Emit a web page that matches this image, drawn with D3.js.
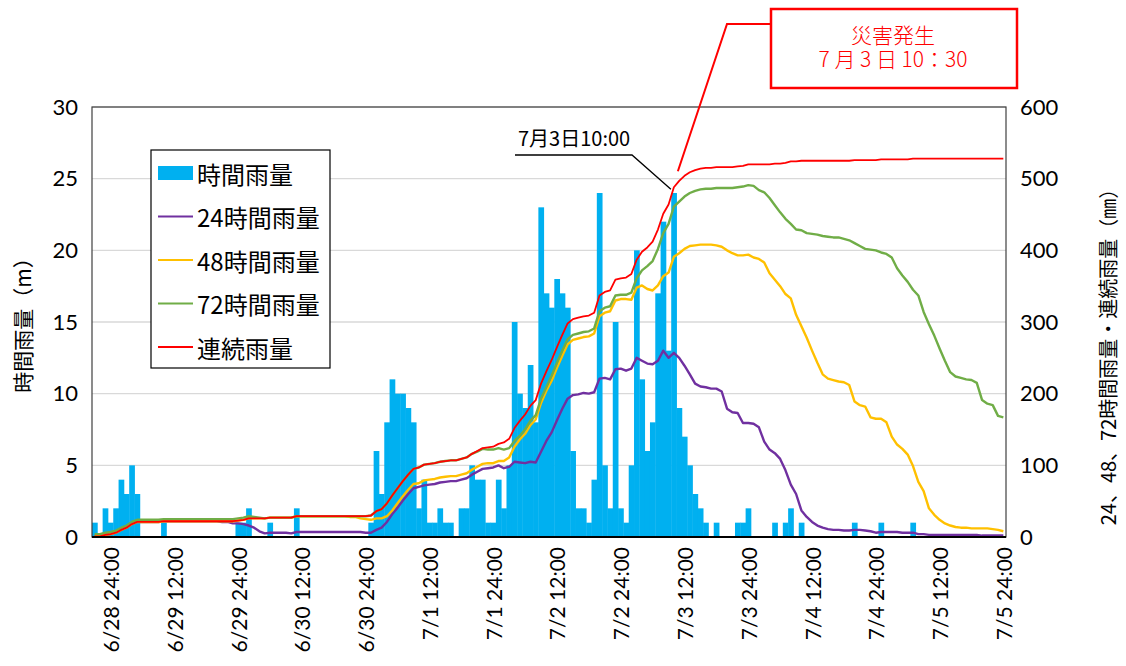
<!DOCTYPE html>
<html lang="ja">
<head>
<meta charset="UTF-8">
<script src="https://cdn.jsdelivr.net/npm/d3@7"></script>
<title>rain</title>
<style>
  body { margin: 0; background: #fff; }
  text { font-family: Lato, "Noto Sans CJK JP", sans-serif; fill: #000; }
  .jp { font-family: "Noto Sans CJK JP", sans-serif; }
</style>
</head>
<body>
<script>
// hourly values, 6/28 21:00 .. 7/5 24:00 (172 hours)
const hourly = [
  1,0,2,1,2,4,3,5,3,0,0,0,
  0,1,0,0,0,0,0,0,0,0,0,0,
  0,0,0,1,1,2,0,0,0,1,0,0,
  0,0,2,0,0,0,0,0,0,0,0,0,
  0,0,0,0,1,6,3,8,11,10,10,9,
  8,2,4,1,1,2,1,1,0,2,2,5,
  4,4,1,1,4,2,5,15,10,9,12,8,
  23,17,16,18,17,16,6,2,2,1,4,24,
  5,2,15,2,1,5,20,11,6,8,17,22,
  13,24,9,7,5,3,2,1,0,1,0,0,
  0,1,1,2,0,0,0,0,1,0,1,2,
  0,1,0,0,0,0,0,0,0,0,0,1,
  0,0,0,0,1,0,0,0,0,0,1,0,
  0,0,0,0,0,0,0,0,0,0,0,0,
  0,0,0,0
];
const rain24 = [
  1,1,3,4,6,10,13,18,21,21,21,21,
  21,22,22,22,22,22,22,22,22,22,22,22,
  21,21,19,19,18,16,13,8,5,6,6,6,
  6,5,7,7,7,7,7,7,7,7,7,7,
  7,7,7,6,6,10,13,21,32,41,51,60,
  68,70,72,73,74,76,77,78,78,80,82,87,
  91,95,96,97,100,96,98,105,104,103,105,104,
  119,134,146,163,179,193,198,199,201,200,202,221,
  222,220,234,235,232,235,250,246,242,241,246,260,
  250,257,250,239,227,214,210,209,207,207,203,179,
  174,173,159,159,158,153,133,122,117,109,93,73,
  60,37,28,21,16,13,11,10,10,9,9,10,
  10,9,8,6,7,7,7,7,6,6,6,4,
  4,3,3,3,3,3,3,3,3,3,3,2,
  2,2,2,2
];
const rain48 = [
  1,1,3,4,6,10,13,18,21,21,21,21,
  21,22,22,22,22,22,22,22,22,22,22,22,
  22,22,22,23,24,26,26,26,26,27,27,27,
  27,27,29,29,29,29,29,29,29,29,29,29,
  28,28,26,25,24,26,26,29,37,47,57,66,
  74,75,79,80,81,83,84,85,85,87,89,94,
  98,102,103,103,106,106,111,126,136,144,156,164,
  187,204,218,236,253,269,275,277,279,280,284,308,
  313,315,330,332,332,331,348,351,346,344,351,364,
  369,391,396,402,406,407,408,408,408,407,405,400,
  396,393,393,394,390,388,383,368,359,350,339,333,
  310,294,278,260,243,227,221,219,217,216,212,189,
  184,182,167,165,165,160,140,129,123,115,99,77,
  64,40,31,24,19,16,14,13,13,12,12,12,
  12,11,10,8
];
const rain72 = [
  4,4,6,7,9,13,16,21,24,24,24,24,
  24,25,25,25,25,25,25,25,25,25,25,25,
  25,25,25,26,27,29,28,27,26,27,27,27,
  27,27,29,29,29,29,29,29,29,29,29,29,
  29,29,29,29,30,36,39,47,58,68,78,87,
  95,97,101,102,103,105,106,107,107,109,111,116,
  119,123,122,122,124,122,124,134,141,150,162,170,
  193,209,225,243,260,276,282,284,286,287,291,315,
  320,322,337,338,338,341,361,372,378,385,402,424,
  437,461,468,475,480,483,485,486,486,487,487,487,
  487,488,489,491,490,484,481,473,463,453,444,437,
  429,428,424,423,422,420,419,418,418,416,414,410,
  406,402,401,400,397,395,390,375,365,356,345,337,
  314,297,281,263,246,230,224,222,220,219,215,191,
  186,184,169,167
];
const continuous = [
  1,1,3,4,6,10,13,18,21,21,21,21,
  21,22,22,22,22,22,22,22,22,22,22,22,
  22,22,22,23,24,26,26,26,26,27,27,27,
  27,27,29,29,29,29,29,29,29,29,29,29,
  29,29,29,29,30,36,39,47,58,68,78,87,
  95,97,101,102,103,105,106,107,107,109,111,116,
  120,124,125,126,130,132,137,152,162,171,183,191,
  214,231,247,265,282,298,304,306,308,309,313,337,
  342,344,359,361,362,367,387,398,404,412,429,451,
  464,488,497,504,509,512,514,515,515,516,516,516,
  516,517,518,520,520,520,520,520,521,521,522,524,
  524,525,525,525,525,525,525,525,525,525,525,526,
  526,526,526,526,527,527,527,527,527,527,528,528,
  528,528,528,528,528,528,528,528,528,528,528,528,
  528,528,528,528
];
const tickLabels = ["6/28 24:00","6/29 12:00","6/29 24:00","6/30 12:00","6/30 24:00",
  "7/1 12:00","7/1 24:00","7/2 12:00","7/2 24:00","7/3 12:00","7/3 24:00",
  "7/4 12:00","7/4 24:00","7/5 12:00","7/5 24:00"];
const firstTick = 3, tickEvery = 12;
const leftTicks = [0,5,10,15,20,25,30];
const rightTicks = [0,100,200,300,400,500,600];
const series = [
  {name:"24時間雨量", values: rain24, color:"#7030a0", w:2.4},
  {name:"48時間雨量", values: rain48, color:"#ffc000", w:2.4},
  {name:"72時間雨量", values: rain72, color:"#70ad47", w:2.4},
  {name:"連続雨量", values: continuous, color:"#ff0000", w:1.8}
];

const W = 1126, H = 666;
const L = 92, R = 1006, T = 107, B = 537;

const svg = d3.select("body").append("svg")
  .attr("width", W).attr("height", H);

const x = d3.scaleBand().domain(d3.range(hourly.length)).range([L, R]).padding(0);
const bw = x.bandwidth();
const yL = d3.scaleLinear().domain([0, 30]).range([B, T]);
const yR = d3.scaleLinear().domain([0, 600]).range([B, T]);

// grid
svg.append("g").selectAll("line")
  .data(leftTicks.slice(1))
  .join("line")
  .attr("x1", L).attr("x2", R)
  .attr("y1", d => yL(d)).attr("y2", d => yL(d))
  .attr("stroke", "#d9d9d9").attr("stroke-width", 1.3);

// bars
svg.append("g").selectAll("rect")
  .data(hourly)
  .join("rect")
  .attr("x", (d, i) => x(i))
  .attr("width", bw + 0.4)
  .attr("y", d => yL(d))
  .attr("height", d => B - yL(d))
  .attr("fill", "#00b0f0");

// lines
const line = d3.line()
  .x((d, i) => x(i) + bw / 2)
  .y(d => yR(d));
svg.append("g").selectAll("path")
  .data(series)
  .join("path")
  .attr("d", d => line(d.values))
  .attr("fill", "none")
  .attr("stroke", d => d.color)
  .attr("stroke-width", d => d.w)
  .attr("stroke-linejoin", "round");

// frame
svg.append("rect")
  .attr("x", L).attr("y", T).attr("width", R - L).attr("height", B - T)
  .attr("fill", "none").attr("stroke", "#404040").attr("stroke-width", 1.2);
svg.append("line")
  .attr("x1", L).attr("x2", R).attr("y1", B).attr("y2", B)
  .attr("stroke", "#000").attr("stroke-width", 1.8);

// axes
const gl = svg.append("g").attr("transform", `translate(${L},0)`)
  .call(d3.axisLeft(yL).tickValues(leftTicks).tickSize(0).tickPadding(14));
const gr = svg.append("g").attr("transform", `translate(${R},0)`)
  .call(d3.axisRight(yR).tickValues(rightTicks).tickSize(0).tickPadding(14));
[gl, gr].forEach(g => {
  g.select(".domain").remove();
  g.selectAll("text").attr("font-size", 22).attr("font-family", "Lato, sans-serif").attr("fill", "#000");
});

// x labels
svg.append("g").selectAll("text")
  .data(tickLabels)
  .join("text")
  .attr("transform", (d, k) => `translate(${x(firstTick + k * tickEvery) + bw / 2},547) rotate(-90)`)
  .attr("text-anchor", "end")
  .attr("dominant-baseline", "central")
  .attr("font-size", 21)
  .text(d => d);

// axis titles
svg.append("text").attr("class", "jp")
  .attr("transform", "translate(22,320) rotate(-90)")
  .attr("text-anchor", "middle").attr("dominant-baseline", "central")
  .attr("font-size", 21)
  .text("時間雨量（m）");
svg.append("text").attr("class", "jp")
  .attr("transform", "translate(1107,352) rotate(-90)")
  .attr("text-anchor", "middle").attr("dominant-baseline", "central")
  .attr("font-size", 20)
  .text("24、48、72時間雨量・連続雨量（㎜）");

// legend
const lg = svg.append("g");
lg.append("rect").attr("x", 151).attr("y", 150).attr("width", 179).attr("height", 218)
  .attr("fill", "#fff").attr("stroke", "#000").attr("stroke-width", 1.2);
const rowY = d3.scalePoint().domain(d3.range(5)).range([173, 347]);
lg.append("rect").attr("x", 158).attr("y", rowY(0) - 7).attr("width", 35).attr("height", 14)
  .attr("fill", "#00b0f0");
lg.selectAll("line.key")
  .data(series)
  .join("line").attr("class", "key")
  .attr("x1", 158).attr("x2", 193)
  .attr("y1", (d, i) => rowY(i + 1)).attr("y2", (d, i) => rowY(i + 1))
  .attr("stroke", d => d.color).attr("stroke-width", 2);
lg.selectAll("text")
  .data(["時間雨量"].concat(series.map(s => s.name)))
  .join("text").attr("class", "jp")
  .attr("x", 197).attr("y", (d, i) => rowY(i))
  .attr("dominant-baseline", "central")
  .attr("font-size", 24)
  .text(d => d);

// annotation 7月3日10:00
const peak = 109;
svg.append("text").attr("class", "jp")
  .attr("x", 518).attr("y", 146).attr("font-size", 20)
  .text("7月3日10:00");
svg.append("polyline")
  .attr("points", `515,155 632,155 ${x(peak) + bw / 2 - 3},${yR(continuous[peak]) + 2}`)
  .attr("fill", "none").attr("stroke", "#000").attr("stroke-width", 1.3);

// disaster callout
svg.append("polyline")
  .attr("points", `771,24 727,24 ${x(peak) + bw / 2 + 4},${yR(continuous[peak]) - 16}`)
  .attr("fill", "none").attr("stroke", "#ff0000").attr("stroke-width", 2);
svg.append("rect").attr("x", 771).attr("y", 9).attr("width", 246).attr("height", 79)
  .attr("fill", "#fff").attr("stroke", "#ff0000").attr("stroke-width", 2.5);
const callout = svg.append("text").attr("class", "jp")
  .attr("text-anchor", "middle")
  .attr("font-size", 21).attr("font-weight", 300).style("fill", "#ff0000");
callout.append("tspan").attr("x", 893).attr("y", 43).text("災害発生");
callout.append("tspan").attr("x", 893).attr("dy", 24).text("7 月 3 日 10：30");
</script>
</body>
</html>
